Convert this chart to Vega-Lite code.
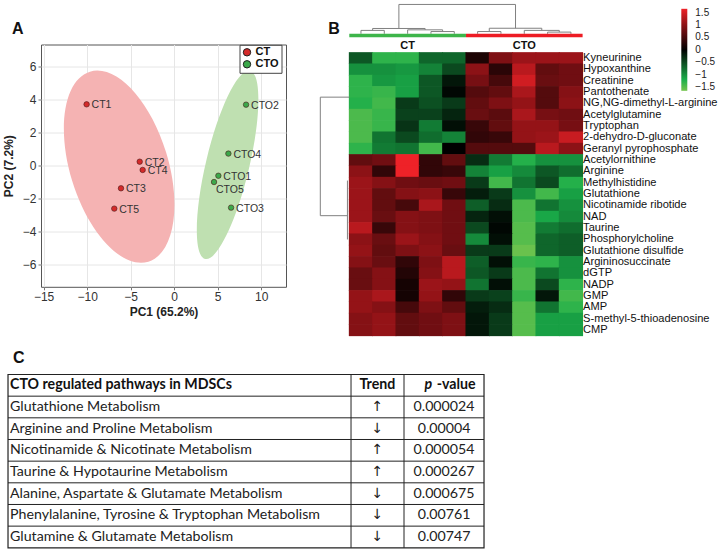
{
  "$schema": "https://vega.github.io/schema/vega-lite/v6.json",
  "padding": {"left": 1, "top": 3.5, "right": 5, "bottom": 5},
  "background": "white",
  "columns": 2,
  "spacing": {"row": 38, "column": 63.3},
  "align": {"row": "each", "column": "none"},
  "bounds": "flush",
  "datasets": {
    "pca": [
      {"sample": "CT1", "group": "CT", "pc1": -10.06, "pc2": 3.71},
      {"sample": "CT2", "group": "CT", "pc1": -3.96, "pc2": 0.24},
      {"sample": "CT3", "group": "CT", "pc1": -6.11, "pc2": -1.37},
      {"sample": "CT4", "group": "CT", "pc1": -3.62, "pc2": -0.26},
      {"sample": "CT5", "group": "CT", "pc1": -6.88, "pc2": -2.6},
      {"sample": "CTO1", "group": "CTO", "pc1": 5.08, "pc2": -0.61},
      {"sample": "CTO2", "group": "CTO", "pc1": 8.26, "pc2": 3.69},
      {"sample": "CTO3", "group": "CTO", "pc1": 6.54, "pc2": -2.54},
      {"sample": "CTO4", "group": "CTO", "pc1": 6.23, "pc2": 0.73},
      {"sample": "CTO5", "group": "CTO", "pc1": 4.58, "pc2": -0.99}
    ],
    "ellipses": [
      {"group": "CT", "cx": -6.32, "cy": -0.06},
      {"group": "CTO", "cx": 6.14, "cy": 0.05}
    ],
    "cells": [
      {"m":"Kyneurinine","s":"CT1","v":-0.6},{"m":"Kyneurinine","s":"CT2","v":-1.3},{"m":"Kyneurinine","s":"CT3","v":-1.3},{"m":"Kyneurinine","s":"CT4","v":-0.7},{"m":"Kyneurinine","s":"CT5","v":-0.7},{"m":"Kyneurinine","s":"CTO1","v":0.2},{"m":"Kyneurinine","s":"CTO2","v":0.9},{"m":"Kyneurinine","s":"CTO3","v":1.1},{"m":"Kyneurinine","s":"CTO4","v":1.1},{"m":"Kyneurinine","s":"CTO5","v":1.1},
      {"m":"Hypoxanthine","s":"CT1","v":-1.0},{"m":"Hypoxanthine","s":"CT2","v":-1.0},{"m":"Hypoxanthine","s":"CT3","v":-1.05},{"m":"Hypoxanthine","s":"CT4","v":-0.9},{"m":"Hypoxanthine","s":"CT5","v":-0.5},{"m":"Hypoxanthine","s":"CTO1","v":1.0},{"m":"Hypoxanthine","s":"CTO2","v":0.3},{"m":"Hypoxanthine","s":"CTO3","v":1.3},{"m":"Hypoxanthine","s":"CTO4","v":0.7},{"m":"Hypoxanthine","s":"CTO5","v":0.8},
      {"m":"Creatinine","s":"CT1","v":-1.3},{"m":"Creatinine","s":"CT2","v":-1.05},{"m":"Creatinine","s":"CT3","v":-1.1},{"m":"Creatinine","s":"CT4","v":-0.6},{"m":"Creatinine","s":"CT5","v":-0.15},{"m":"Creatinine","s":"CTO1","v":0.85},{"m":"Creatinine","s":"CTO2","v":0.5},{"m":"Creatinine","s":"CTO3","v":1.45},{"m":"Creatinine","s":"CTO4","v":0.75},{"m":"Creatinine","s":"CTO5","v":0.8},
      {"m":"Pantothenate","s":"CT1","v":-1.3},{"m":"Pantothenate","s":"CT2","v":-1.35},{"m":"Pantothenate","s":"CT3","v":-1.1},{"m":"Pantothenate","s":"CT4","v":-0.6},{"m":"Pantothenate","s":"CT5","v":-0.05},{"m":"Pantothenate","s":"CTO1","v":0.6},{"m":"Pantothenate","s":"CTO2","v":0.7},{"m":"Pantothenate","s":"CTO3","v":1.2},{"m":"Pantothenate","s":"CTO4","v":0.6},{"m":"Pantothenate","s":"CTO5","v":0.95},
      {"m":"NG,NG-dimethyl-L-arginine","s":"CT1","v":-1.25},{"m":"NG,NG-dimethyl-L-arginine","s":"CT2","v":-1.4},{"m":"NG,NG-dimethyl-L-arginine","s":"CT3","v":-0.4},{"m":"NG,NG-dimethyl-L-arginine","s":"CT4","v":-0.55},{"m":"NG,NG-dimethyl-L-arginine","s":"CT5","v":-0.4},{"m":"NG,NG-dimethyl-L-arginine","s":"CTO1","v":0.7},{"m":"NG,NG-dimethyl-L-arginine","s":"CTO2","v":0.9},{"m":"NG,NG-dimethyl-L-arginine","s":"CTO3","v":1.05},{"m":"NG,NG-dimethyl-L-arginine","s":"CTO4","v":0.6},{"m":"NG,NG-dimethyl-L-arginine","s":"CTO5","v":1.0},
      {"m":"Acetylglutamine","s":"CT1","v":-1.45},{"m":"Acetylglutamine","s":"CT2","v":-1.35},{"m":"Acetylglutamine","s":"CT3","v":-0.45},{"m":"Acetylglutamine","s":"CT4","v":-0.45},{"m":"Acetylglutamine","s":"CT5","v":-0.25},{"m":"Acetylglutamine","s":"CTO1","v":0.75},{"m":"Acetylglutamine","s":"CTO2","v":0.65},{"m":"Acetylglutamine","s":"CTO3","v":1.2},{"m":"Acetylglutamine","s":"CTO4","v":0.85},{"m":"Acetylglutamine","s":"CTO5","v":0.8},
      {"m":"Tryptophan","s":"CT1","v":-1.45},{"m":"Tryptophan","s":"CT2","v":-1.35},{"m":"Tryptophan","s":"CT3","v":-0.35},{"m":"Tryptophan","s":"CT4","v":-0.85},{"m":"Tryptophan","s":"CT5","v":-0.1},{"m":"Tryptophan","s":"CTO1","v":0.4},{"m":"Tryptophan","s":"CTO2","v":0.7},{"m":"Tryptophan","s":"CTO3","v":1.05},{"m":"Tryptophan","s":"CTO4","v":1.05},{"m":"Tryptophan","s":"CTO5","v":0.85},
      {"m":"2-dehydro-D-gluconate","s":"CT1","v":-1.45},{"m":"2-dehydro-D-gluconate","s":"CT2","v":-0.8},{"m":"2-dehydro-D-gluconate","s":"CT3","v":-0.5},{"m":"2-dehydro-D-gluconate","s":"CT4","v":-0.75},{"m":"2-dehydro-D-gluconate","s":"CT5","v":-0.9},{"m":"2-dehydro-D-gluconate","s":"CTO1","v":0.35},{"m":"2-dehydro-D-gluconate","s":"CTO2","v":0.4},{"m":"2-dehydro-D-gluconate","s":"CTO3","v":1.05},{"m":"2-dehydro-D-gluconate","s":"CTO4","v":1.1},{"m":"2-dehydro-D-gluconate","s":"CTO5","v":1.4},
      {"m":"Geranyl pyrophosphate","s":"CT1","v":-1.3},{"m":"Geranyl pyrophosphate","s":"CT2","v":-0.85},{"m":"Geranyl pyrophosphate","s":"CT3","v":-0.8},{"m":"Geranyl pyrophosphate","s":"CT4","v":-1.4},{"m":"Geranyl pyrophosphate","s":"CT5","v":0.0},{"m":"Geranyl pyrophosphate","s":"CTO1","v":0.6},{"m":"Geranyl pyrophosphate","s":"CTO2","v":0.6},{"m":"Geranyl pyrophosphate","s":"CTO3","v":0.6},{"m":"Geranyl pyrophosphate","s":"CTO4","v":1.3},{"m":"Geranyl pyrophosphate","s":"CTO5","v":1.0},
      {"m":"Acetylornithine","s":"CT1","v":0.7},{"m":"Acetylornithine","s":"CT2","v":0.8},{"m":"Acetylornithine","s":"CT3","v":1.65},{"m":"Acetylornithine","s":"CT4","v":0.35},{"m":"Acetylornithine","s":"CT5","v":0.7},{"m":"Acetylornithine","s":"CTO1","v":-0.3},{"m":"Acetylornithine","s":"CTO2","v":-0.85},{"m":"Acetylornithine","s":"CTO3","v":-1.25},{"m":"Acetylornithine","s":"CTO4","v":-1.0},{"m":"Acetylornithine","s":"CTO5","v":-1.0},
      {"m":"Arginine","s":"CT1","v":1.0},{"m":"Arginine","s":"CT2","v":0.35},{"m":"Arginine","s":"CT3","v":1.65},{"m":"Arginine","s":"CT4","v":0.35},{"m":"Arginine","s":"CT5","v":0.4},{"m":"Arginine","s":"CTO1","v":-0.9},{"m":"Arginine","s":"CTO2","v":-1.1},{"m":"Arginine","s":"CTO3","v":-0.95},{"m":"Arginine","s":"CTO4","v":-0.6},{"m":"Arginine","s":"CTO5","v":-0.75},
      {"m":"Methylhistidine","s":"CT1","v":1.1},{"m":"Methylhistidine","s":"CT2","v":0.95},{"m":"Methylhistidine","s":"CT3","v":0.8},{"m":"Methylhistidine","s":"CT4","v":0.75},{"m":"Methylhistidine","s":"CT5","v":0.8},{"m":"Methylhistidine","s":"CTO1","v":-0.4},{"m":"Methylhistidine","s":"CTO2","v":-1.4},{"m":"Methylhistidine","s":"CTO3","v":-0.8},{"m":"Methylhistidine","s":"CTO4","v":-0.5},{"m":"Methylhistidine","s":"CTO5","v":-1.25},
      {"m":"Glutathione","s":"CT1","v":1.1},{"m":"Glutathione","s":"CT2","v":0.7},{"m":"Glutathione","s":"CT3","v":0.95},{"m":"Glutathione","s":"CT4","v":1.0},{"m":"Glutathione","s":"CT5","v":0.4},{"m":"Glutathione","s":"CTO1","v":-0.2},{"m":"Glutathione","s":"CTO2","v":-0.4},{"m":"Glutathione","s":"CTO3","v":-1.0},{"m":"Glutathione","s":"CTO4","v":-1.4},{"m":"Glutathione","s":"CTO5","v":-1.1},
      {"m":"Nicotinamide ribotide","s":"CT1","v":1.1},{"m":"Nicotinamide ribotide","s":"CT2","v":0.7},{"m":"Nicotinamide ribotide","s":"CT3","v":0.5},{"m":"Nicotinamide ribotide","s":"CT4","v":1.2},{"m":"Nicotinamide ribotide","s":"CT5","v":0.8},{"m":"Nicotinamide ribotide","s":"CTO1","v":-0.65},{"m":"Nicotinamide ribotide","s":"CTO2","v":-0.3},{"m":"Nicotinamide ribotide","s":"CTO3","v":-1.45},{"m":"Nicotinamide ribotide","s":"CTO4","v":-0.8},{"m":"Nicotinamide ribotide","s":"CTO5","v":-1.0},
      {"m":"NAD","s":"CT1","v":1.1},{"m":"NAD","s":"CT2","v":0.75},{"m":"NAD","s":"CT3","v":0.95},{"m":"NAD","s":"CT4","v":0.9},{"m":"NAD","s":"CT5","v":0.8},{"m":"NAD","s":"CTO1","v":-0.25},{"m":"NAD","s":"CTO2","v":-0.1},{"m":"NAD","s":"CTO3","v":-1.45},{"m":"NAD","s":"CTO4","v":-1.15},{"m":"NAD","s":"CTO5","v":-0.95},
      {"m":"Taurine","s":"CT1","v":1.3},{"m":"Taurine","s":"CT2","v":0.4},{"m":"Taurine","s":"CT3","v":0.95},{"m":"Taurine","s":"CT4","v":0.9},{"m":"Taurine","s":"CT5","v":0.8},{"m":"Taurine","s":"CTO1","v":-0.5},{"m":"Taurine","s":"CTO2","v":-0.05},{"m":"Taurine","s":"CTO3","v":-1.5},{"m":"Taurine","s":"CTO4","v":-0.85},{"m":"Taurine","s":"CTO5","v":-0.75},
      {"m":"Phosphorylcholine","s":"CT1","v":1.0},{"m":"Phosphorylcholine","s":"CT2","v":0.75},{"m":"Phosphorylcholine","s":"CT3","v":1.1},{"m":"Phosphorylcholine","s":"CT4","v":0.95},{"m":"Phosphorylcholine","s":"CT5","v":0.8},{"m":"Phosphorylcholine","s":"CTO1","v":-0.95},{"m":"Phosphorylcholine","s":"CTO2","v":-0.1},{"m":"Phosphorylcholine","s":"CTO3","v":-1.5},{"m":"Phosphorylcholine","s":"CTO4","v":-0.7},{"m":"Phosphorylcholine","s":"CTO5","v":-0.65},
      {"m":"Glutathione disulfide","s":"CT1","v":1.05},{"m":"Glutathione disulfide","s":"CT2","v":0.7},{"m":"Glutathione disulfide","s":"CT3","v":0.9},{"m":"Glutathione disulfide","s":"CT4","v":1.0},{"m":"Glutathione disulfide","s":"CT5","v":0.75},{"m":"Glutathione disulfide","s":"CTO1","v":-0.4},{"m":"Glutathione disulfide","s":"CTO2","v":-0.4},{"m":"Glutathione disulfide","s":"CTO3","v":-1.6},{"m":"Glutathione disulfide","s":"CTO4","v":-0.7},{"m":"Glutathione disulfide","s":"CTO5","v":-0.65},
      {"m":"Argininosuccinate","s":"CT1","v":0.95},{"m":"Argininosuccinate","s":"CT2","v":0.75},{"m":"Argininosuccinate","s":"CT3","v":0.35},{"m":"Argininosuccinate","s":"CT4","v":0.9},{"m":"Argininosuccinate","s":"CT5","v":1.3},{"m":"Argininosuccinate","s":"CTO1","v":-0.65},{"m":"Argininosuccinate","s":"CTO2","v":-0.1},{"m":"Argininosuccinate","s":"CTO3","v":-1.35},{"m":"Argininosuccinate","s":"CTO4","v":-1.3},{"m":"Argininosuccinate","s":"CTO5","v":-1.0},
      {"m":"dGTP","s":"CT1","v":0.75},{"m":"dGTP","s":"CT2","v":0.95},{"m":"dGTP","s":"CT3","v":0.25},{"m":"dGTP","s":"CT4","v":0.95},{"m":"dGTP","s":"CT5","v":1.3},{"m":"dGTP","s":"CTO1","v":-0.6},{"m":"dGTP","s":"CTO2","v":-0.4},{"m":"dGTP","s":"CTO3","v":-1.45},{"m":"dGTP","s":"CTO4","v":-0.8},{"m":"dGTP","s":"CTO5","v":-1.0},
      {"m":"NADP","s":"CT1","v":0.75},{"m":"NADP","s":"CT2","v":0.95},{"m":"NADP","s":"CT3","v":0.15},{"m":"NADP","s":"CT4","v":1.1},{"m":"NADP","s":"CT5","v":1.05},{"m":"NADP","s":"CTO1","v":-0.8},{"m":"NADP","s":"CTO2","v":-0.1},{"m":"NADP","s":"CTO3","v":-1.45},{"m":"NADP","s":"CTO4","v":-0.5},{"m":"NADP","s":"CTO5","v":-1.3},
      {"m":"GMP","s":"CT1","v":1.05},{"m":"GMP","s":"CT2","v":1.2},{"m":"GMP","s":"CT3","v":0.15},{"m":"GMP","s":"CT4","v":1.05},{"m":"GMP","s":"CT5","v":0.35},{"m":"GMP","s":"CTO1","v":-0.4},{"m":"GMP","s":"CTO2","v":-0.45},{"m":"GMP","s":"CTO3","v":-1.35},{"m":"GMP","s":"CTO4","v":-0.15},{"m":"GMP","s":"CTO5","v":-1.4},
      {"m":"AMP","s":"CT1","v":1.05},{"m":"AMP","s":"CT2","v":0.95},{"m":"AMP","s":"CT3","v":0.5},{"m":"AMP","s":"CT4","v":0.9},{"m":"AMP","s":"CT5","v":0.7},{"m":"AMP","s":"CTO1","v":-0.2},{"m":"AMP","s":"CTO2","v":-0.3},{"m":"AMP","s":"CTO3","v":-1.5},{"m":"AMP","s":"CTO4","v":-0.8},{"m":"AMP","s":"CTO5","v":-1.3},
      {"m":"S-methyl-5-thioadenosine","s":"CT1","v":0.95},{"m":"S-methyl-5-thioadenosine","s":"CT2","v":1.05},{"m":"S-methyl-5-thioadenosine","s":"CT3","v":0.7},{"m":"S-methyl-5-thioadenosine","s":"CT4","v":0.8},{"m":"S-methyl-5-thioadenosine","s":"CT5","v":0.9},{"m":"S-methyl-5-thioadenosine","s":"CTO1","v":-0.15},{"m":"S-methyl-5-thioadenosine","s":"CTO2","v":-0.4},{"m":"S-methyl-5-thioadenosine","s":"CTO3","v":-1.5},{"m":"S-methyl-5-thioadenosine","s":"CTO4","v":-1.1},{"m":"S-methyl-5-thioadenosine","s":"CTO5","v":-1.1},
      {"m":"CMP","s":"CT1","v":0.95},{"m":"CMP","s":"CT2","v":1.05},{"m":"CMP","s":"CT3","v":0.7},{"m":"CMP","s":"CT4","v":0.8},{"m":"CMP","s":"CT5","v":0.9},{"m":"CMP","s":"CTO1","v":-0.15},{"m":"CMP","s":"CTO2","v":-0.4},{"m":"CMP","s":"CTO3","v":-1.5},{"m":"CMP","s":"CTO4","v":-1.1},{"m":"CMP","s":"CTO5","v":-1.1}
    ],
    "dendro": [
      {"x1":2.125,"x2":7.125,"y1":-4.24,"y2":-4.24},
      {"x1":2.125,"x2":2.125,"y1":-4.24,"y2":-2.12},
      {"x1":7.125,"x2":7.125,"y1":-4.24,"y2":-2.14},
      {"x1":1.0,"x2":3.25,"y1":-2.12,"y2":-2.12},
      {"x1":1.0,"x2":1.0,"y1":-2.12,"y2":-1.95},
      {"x1":3.25,"x2":3.25,"y1":-2.12,"y2":-2.0},
      {"x1":0.5,"x2":1.5,"y1":-1.95,"y2":-1.95},
      {"x1":0.5,"x2":0.5,"y1":-1.95,"y2":-1.65},
      {"x1":1.5,"x2":1.5,"y1":-1.95,"y2":-1.65},
      {"x1":2.5,"x2":4.0,"y1":-2.0,"y2":-2.0},
      {"x1":2.5,"x2":2.5,"y1":-2.0,"y2":-1.65},
      {"x1":4.0,"x2":4.0,"y1":-2.0,"y2":-1.85},
      {"x1":3.5,"x2":4.5,"y1":-1.85,"y2":-1.85},
      {"x1":3.5,"x2":3.5,"y1":-1.85,"y2":-1.65},
      {"x1":4.5,"x2":4.5,"y1":-1.85,"y2":-1.65},
      {"x1":6.0,"x2":8.25,"y1":-2.14,"y2":-2.14},
      {"x1":6.0,"x2":6.0,"y1":-2.14,"y2":-1.85},
      {"x1":8.25,"x2":8.25,"y1":-2.14,"y2":-1.95},
      {"x1":5.5,"x2":6.5,"y1":-1.85,"y2":-1.85},
      {"x1":5.5,"x2":5.5,"y1":-1.85,"y2":-1.65},
      {"x1":6.5,"x2":6.5,"y1":-1.85,"y2":-1.65},
      {"x1":7.5,"x2":9.0,"y1":-1.95,"y2":-1.95},
      {"x1":7.5,"x2":7.5,"y1":-1.95,"y2":-1.65},
      {"x1":9.0,"x2":9.0,"y1":-1.95,"y2":-1.8},
      {"x1":8.5,"x2":9.5,"y1":-1.8,"y2":-1.8},
      {"x1":8.5,"x2":8.5,"y1":-1.8,"y2":-1.65},
      {"x1":9.5,"x2":9.5,"y1":-1.8,"y2":-1.65},
      {"x1":-1.243,"x2":-1.243,"y1":3.94,"y2":14.4},
      {"x1":-1.243,"x2":0,"y1":3.94,"y2":3.94},
      {"x1":-1.243,"x2":-0.08,"y1":14.4,"y2":14.4},
      {"x1":-0.08,"x2":-0.08,"y1":11.3,"y2":16.5}
    ],
    "groups": [
      {"g": "CT", "start": 0, "end": 5},
      {"g": "CTO", "start": 5, "end": 10}
    ],
    "table": [
      {"r": 0, "pathway": "CTO regulated pathways in MDSCs", "trend": "Trend", "p": "-value"},
      {"r": 1, "pathway": "Glutathione Metabolism", "trend": "↑", "p": "0.000024"},
      {"r": 2, "pathway": "Arginine and Proline Metabolism", "trend": "↓", "p": "0.00004"},
      {"r": 3, "pathway": "Nicotinamide & Nicotinate Metabolism", "trend": "↑", "p": "0.000054"},
      {"r": 4, "pathway": "Taurine & Hypotaurine Metabolism", "trend": "↑", "p": "0.000267"},
      {"r": 5, "pathway": "Alanine, Aspartate & Glutamate Metabolism", "trend": "↓", "p": "0.000675"},
      {"r": 6, "pathway": "Phenylalanine, Tyrosine & Tryptophan Metabolism", "trend": "↓", "p": "0.00761"},
      {"r": 7, "pathway": "Glutamine & Glutamate Metabolism", "trend": "↓", "p": "0.00747"}
    ]
  },
  "concat": [
    {
      "width": 245,
      "height": 242.3,
      "view": {"stroke": "#555", "strokeWidth": 1},
      "title": {"text": "A", "dx": -29, "offset": 8},
      "layer": [
        {
          "data": {"name": "ellipses"},
          "transform": [{"filter": "datum.group === 'CT'"}],
          "mark": {"type": "point", "shape": "M0,-1 C0.2728,-1 0.494,-0.5523 0.494,0 C0.494,0.5523 0.2728,1 0,1 C-0.2728,1 -0.494,0.5523 -0.494,0 C-0.494,-0.5523 -0.2728,-1 0,-1 Z", "filled": true, "fill": "#f5b3b3", "opacity": 1, "strokeWidth": 0, "size": 39521, "angle": -17.1},
          "encoding": {
            "x": {"field": "cx", "type": "quantitative", "title": "PC1 (65.2%)", "scale": {"domain": [-15.3, 12.85], "nice": false, "zero": false},
              "axis": {"values": [-15, -10, -5, 0, 5, 10], "grid": true, "gridColor": "#e6e6e6", "domain": false, "tickSize": 3, "tickColor": "#777", "labelFontSize": 12, "labelColor": "#333", "labelPadding": 2, "titleFontSize": 12, "titleFontWeight": "bold", "titleColor": "#222", "titlePadding": 4, "labelFlush": false}},
            "y": {"field": "cy", "type": "quantitative", "title": "PC2 (7.2%)", "scale": {"domain": [-7.33, 7.33], "nice": false, "zero": false},
              "axis": {"values": [-6, -4, -2, 0, 2, 4, 6], "grid": true, "gridColor": "#e6e6e6", "domain": false, "tickSize": 3, "tickColor": "#777", "labelFontSize": 12, "labelColor": "#333", "labelPadding": 2, "titleFontSize": 12, "titleFontWeight": "bold", "titleColor": "#222", "titlePadding": 7, "labelFlush": false}}
          }
        },
        {
          "data": {"name": "ellipses"},
          "transform": [{"filter": "datum.group === 'CTO'"}],
          "mark": {"type": "point", "shape": "M0,-1 C0.1237,-1 0.224,-0.5523 0.224,0 C0.224,0.5523 0.1237,1 0,1 C-0.1237,1 -0.224,0.5523 -0.224,0 C-0.224,-0.5523 -0.1237,-1 0,-1 Z", "filled": true, "fill": "#bfe0b1", "opacity": 1, "strokeWidth": 0, "size": 37481, "angle": 13.4},
          "encoding": {
            "x": {"field": "cx", "type": "quantitative"},
            "y": {"field": "cy", "type": "quantitative"}
          }
        },
        {
          "data": {"name": "pca"},
          "mark": {"type": "point", "filled": true, "size": 30, "stroke": "#4a1a1a", "strokeWidth": 0.6, "opacity": 1},
          "encoding": {
            "x": {"field": "pc1", "type": "quantitative"},
            "y": {"field": "pc2", "type": "quantitative"},
            "color": {"field": "group", "type": "nominal", "scale": {"domain": ["CT", "CTO"], "range": ["#d42a2a", "#3ba84a"]},
              "legend": {"title": null, "orient": "none", "legendX": 198.5, "legendY": 0.3, "strokeColor": "#444", "fillColor": "#ffffff", "padding": 2, "symbolType": "circle", "symbolSize": 55, "symbolStrokeColor": "#222", "symbolStrokeWidth": 1, "labelFontSize": 11, "labelFontWeight": "bold", "labelColor": "#111", "labelOffset": 3, "rowPadding": -1}}
          }
        },
        {
          "data": {"name": "pca"},
          "transform": [{"filter": "datum.sample !== 'CTO5'"}],
          "mark": {"type": "text", "align": "left", "baseline": "middle", "dx": 5, "dy": 1, "fontSize": 10.5, "color": "#333"},
          "encoding": {
            "x": {"field": "pc1", "type": "quantitative"},
            "y": {"field": "pc2", "type": "quantitative"},
            "text": {"field": "sample"}
          }
        },
        {
          "data": {"name": "pca"},
          "transform": [{"filter": "datum.sample === 'CTO5'"}],
          "mark": {"type": "text", "align": "left", "baseline": "middle", "dx": 2, "dy": 8, "fontSize": 10.5, "color": "#333"},
          "encoding": {
            "x": {"field": "pc1", "type": "quantitative"},
            "y": {"field": "pc2", "type": "quantitative"},
            "text": {"field": "sample"}
          }
        }
      ]
    },
    {
      "width": 233.3,
      "height": 291.3,
      "title": {"text": "B", "dx": -21, "offset": -33},
      "resolve": {"scale": {"x": "independent", "y": "independent", "color": "independent"}},
      "layer": [
        {
          "data": {"name": "cells"},
          "mark": {"type": "rect", "width": {"band": 1.04}, "height": {"band": 1.06}},
          "encoding": {
            "x": {"field": "s", "type": "ordinal", "scale": {"domain": ["CT1", "CT2", "CT3", "CT4", "CT5", "CTO1", "CTO2", "CTO3", "CTO4", "CTO5"], "paddingInner": 0, "paddingOuter": 0}, "axis": null},
            "y": {"field": "m", "type": "ordinal",
              "scale": {"domain": ["Kyneurinine", "Hypoxanthine", "Creatinine", "Pantothenate", "NG,NG-dimethyl-L-arginine", "Acetylglutamine", "Tryptophan", "2-dehydro-D-gluconate", "Geranyl pyrophosphate", "Acetylornithine", "Arginine", "Methylhistidine", "Glutathione", "Nicotinamide ribotide", "NAD", "Taurine", "Phosphorylcholine", "Glutathione disulfide", "Argininosuccinate", "dGTP", "NADP", "GMP", "AMP", "S-methyl-5-thioadenosine", "CMP"], "paddingInner": 0, "paddingOuter": 0.353, "align": 1},
              "axis": {"orient": "right", "title": null, "domain": false, "ticks": false, "labelPadding": 0, "labelFontSize": 11.1, "labelColor": "#111", "labelLimit": 0}},
            "color": {"field": "v", "type": "quantitative",
              "scale": {"domain": [-1.65, -1.2, 0, 1.0, 1.65], "range": ["#74c44d", "#1aae4a", "#000000", "#8c1216", "#ee2228"], "interpolate": "rgb", "nice": false, "zero": false},
              "legend": {"title": null, "orient": "none", "legendX": 332, "legendY": -35.7, "direction": "vertical", "gradientLength": 82, "gradientThickness": 6, "values": [1.5, 1, 0.5, 0, -0.5, -1, -1.5], "format": ".2~g", "labelFontSize": 10, "labelColor": "#222", "labelOffset": 8, "labelAlign": "center", "gradientStrokeWidth": 0, "labelOverlap": false}}
          }
        },
        {
          "layer": [
            {
              "data": {"name": "dendro"},
              "mark": {"type": "rule", "color": "#808080", "strokeWidth": 1},
              "encoding": {
                "x": {"field": "x1", "type": "quantitative", "scale": {"domain": [0, 10], "nice": false, "zero": false}, "axis": null},
                "x2": {"field": "x2"},
                "y": {"field": "y1", "type": "quantitative", "scale": {"domain": [-0.706, 25], "reverse": true, "nice": false, "zero": false}, "axis": null},
                "y2": {"field": "y2"}
              }
            },
            {
              "data": {"name": "groups"},
              "mark": {"type": "rect"},
              "encoding": {
                "x": {"field": "start", "type": "quantitative"},
                "x2": {"field": "end"},
                "y": {"datum": -1.65, "type": "quantitative"},
                "y2": {"datum": -1.35},
                "color": {"field": "g", "type": "nominal", "scale": {"domain": ["CT", "CTO"], "range": ["#3db54a", "#ed1c24"]}, "legend": null}
              }
            },
            {
              "data": {"name": "groups"},
              "transform": [{"filter": "datum.g === 'CT'"}],
              "mark": {"type": "text", "fontWeight": "bold", "fontSize": 11, "color": "#111", "baseline": "middle"},
              "encoding": {
                "x": {"datum": 2.5, "type": "quantitative"},
                "y": {"datum": -0.56, "type": "quantitative"},
                "text": {"field": "g"}
              }
            },
            {
              "data": {"name": "groups"},
              "transform": [{"filter": "datum.g === 'CTO'"}],
              "mark": {"type": "text", "fontWeight": "bold", "fontSize": 11, "color": "#111", "baseline": "middle"},
              "encoding": {
                "x": {"datum": 7.5, "type": "quantitative"},
                "y": {"datum": -0.56, "type": "quantitative"},
                "text": {"field": "g"}
              }
            }
          ]
        }
      ]
    },
    {
      "width": 245,
      "height": 173.3,
      "title": {"text": "C", "dx": -28, "offset": 8.3},
      "layer": [
        {
          "data": {"name": "table"},
          "transform": [{"filter": "datum.r > 0"}],
          "mark": {"type": "rule", "color": "#222", "strokeWidth": 1},
          "encoding": {
            "x": {"datum": 0, "type": "quantitative", "scale": {"domain": [0.0693, 0.584], "nice": false, "zero": false}, "axis": null},
            "x2": {"datum": 1},
            "y": {"field": "r", "type": "quantitative", "scale": {"domain": [0, 8], "reverse": true, "nice": false, "zero": false}, "axis": null}
          }
        },
        {
          "data": {"name": "table"},
          "transform": [{"filter": "datum.r === 0"}],
          "mark": {"type": "rect", "fill": null, "filled": false, "stroke": "#222", "strokeWidth": 1.2},
          "encoding": {
            "x": {"datum": 0, "type": "quantitative"},
            "x2": {"datum": 1},
            "y": {"datum": 0, "type": "quantitative"},
            "y2": {"datum": 8}
          }
        },
        {
          "data": {"name": "table"},
          "transform": [{"filter": "datum.r === 0"}],
          "mark": {"type": "rule", "color": "#222", "strokeWidth": 1},
          "encoding": {
            "x": {"datum": 0.7206, "type": "quantitative"},
            "y": {"datum": 0, "type": "quantitative"},
            "y2": {"datum": 8}
          }
        },
        {
          "data": {"name": "table"},
          "transform": [{"filter": "datum.r === 0"}],
          "mark": {"type": "rule", "color": "#222", "strokeWidth": 1},
          "encoding": {
            "x": {"datum": 0.8319, "type": "quantitative"},
            "y": {"datum": 0, "type": "quantitative"},
            "y2": {"datum": 8}
          }
        },
        {
          "data": {"name": "table"},
          "transform": [{"filter": "datum.r === 0"}],
          "mark": {"type": "text", "align": "left", "baseline": "middle", "dy": 10.8, "fontSize": 14.2, "font": "Lato", "fontWeight": "bold", "color": "#111"},
          "encoding": {
            "x": {"datum": 0.0042, "type": "quantitative"},
            "y": {"field": "r", "type": "quantitative"},
            "text": {"field": "pathway"}
          }
        },
        {
          "data": {"name": "table"},
          "transform": [{"filter": "datum.r === 0"}],
          "mark": {"type": "text", "align": "center", "baseline": "middle", "dy": 10.8, "fontSize": 14.2, "font": "Lato", "fontWeight": "bold", "color": "#111"},
          "encoding": {
            "x": {"datum": 0.776, "type": "quantitative"},
            "y": {"field": "r", "type": "quantitative"},
            "text": {"field": "trend"}
          }
        },
        {
          "data": {"name": "table"},
          "transform": [{"filter": "datum.r === 0"}],
          "mark": {"type": "text", "align": "right", "baseline": "middle", "dy": 10.8, "fontSize": 14.2, "font": "Lato", "fontWeight": "bold", "fontStyle": "italic", "color": "#111"},
          "encoding": {
            "x": {"datum": 0.8908, "type": "quantitative"},
            "y": {"field": "r", "type": "quantitative"},
            "text": {"value": "p"}
          }
        },
        {
          "data": {"name": "table"},
          "transform": [{"filter": "datum.r === 0"}],
          "mark": {"type": "text", "align": "left", "baseline": "middle", "dy": 10.8, "fontSize": 14.2, "font": "Lato", "fontWeight": "bold", "color": "#111"},
          "encoding": {
            "x": {"datum": 0.9006, "type": "quantitative"},
            "y": {"field": "r", "type": "quantitative"},
            "text": {"field": "p"}
          }
        },
        {
          "data": {"name": "table"},
          "transform": [{"filter": "datum.r > 0"}],
          "mark": {"type": "text", "align": "left", "baseline": "middle", "dy": 10.8, "fontSize": 14.2, "font": "Lato", "color": "#222"},
          "encoding": {
            "x": {"datum": 0.0042, "type": "quantitative"},
            "y": {"field": "r", "type": "quantitative"},
            "text": {"field": "pathway"}
          }
        },
        {
          "data": {"name": "table"},
          "transform": [{"filter": "datum.r > 0"}],
          "mark": {"type": "text", "align": "center", "baseline": "middle", "dy": 11, "fontSize": 14, "font": "DejaVu Sans", "color": "#222"},
          "encoding": {
            "x": {"datum": 0.776, "type": "quantitative"},
            "y": {"field": "r", "type": "quantitative"},
            "text": {"field": "trend"}
          }
        },
        {
          "data": {"name": "table"},
          "transform": [{"filter": "datum.r > 0"}],
          "mark": {"type": "text", "align": "center", "baseline": "middle", "dy": 10.8, "fontSize": 14.2, "font": "Lato", "color": "#222"},
          "encoding": {
            "x": {"datum": 0.916, "type": "quantitative"},
            "y": {"field": "r", "type": "quantitative"},
            "text": {"field": "p"}
          }
        }
      ]
    }
  ],
  "config": {
    "font": "Liberation Sans",
    "view": {"stroke": null},
    "title": {"font": "Liberation Sans", "fontSize": 16, "fontWeight": "bold", "anchor": "start", "frame": "group", "baseline": "alphabetic", "color": "#111"}
  }
}
